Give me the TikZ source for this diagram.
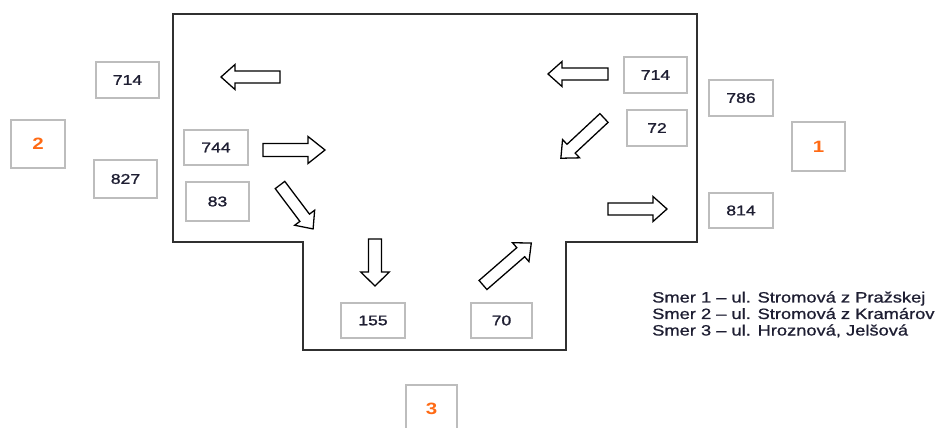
\documentclass[tikz,border=0pt]{standalone}
\usepackage{fontspec}
\setmainfont{Liberation Sans}
\newfontfamily\heavyfont[FakeBold=1.2]{Liberation Sans}
\newfontfamily\legfont[FakeBold=0.8]{Liberation Sans}
\definecolor{boxgray}{HTML}{BDBDBD}
\definecolor{numorange}{HTML}{FF6A14}
\definecolor{numtext}{HTML}{1E1E32}
\definecolor{wallcol}{HTML}{303030}
\tikzset{
  numbox/.style={draw=boxgray, line width=1.3pt, inner sep=0pt, text=numtext,
    font=\heavyfont\fontsize{12}{13}\selectfont},
  dirbox/.style={draw=boxgray, line width=1.3pt, inner sep=0pt, text=numorange,
    font=\fontsize{14}{16}\selectfont\bfseries},
  blockarr/.style={draw=black, fill=white, line width=1.1pt, line join=miter},
  wall/.style={draw=wallcol, line width=1.6pt, line join=miter},
  legend/.style={inner sep=0pt, anchor=base west, text=numtext,
    font=\legfont\fontsize{12.8}{14}\selectfont}
}
% box from (x1,y1) to (x2,y2) in pixel units
\newcommand\pxbox[7]{\node[#1, minimum width={(#5-#3)*0.03cm}, minimum height={(#6-#4)*0.03cm}]
  (#2) at ({(#3+#5)/2},{(#4+#6)/2}) {\scalebox{1.25}[1]{#7}};}
% block arrow: tail (x,y), canvas angle, length, shaft half, head half, head length
\newcommand\blockarrow[8]{\draw[blockarr, shift={(#2,#3)}, rotate=#4]
  (0,#6) -- ({#5-#8},#6) -- ({#5-#8},#7) -- (#5,0) -- ({#5-#8},-#7) -- ({#5-#8},-#6) -- (0,-#6) -- cycle;
  \coordinate (#1) at (#2,#3);}
\begin{document}
\begin{tikzpicture}[x=0.03cm, y=-0.03cm]
\useasboundingbox (0,0) rectangle (943,428);
\clip (0,0) rectangle (943,428);
% intersection outline
\draw[wall] (173,14) -- (697,14) -- (697,242) -- (566,242) -- (566,350)
  -- (303,350) -- (303,242) -- (173,242) -- cycle;
% count boxes
\pxbox{numbox}{nA}{96}{62}{159}{98}{714}
\pxbox{numbox}{nB}{94}{160}{157}{198}{827}
\pxbox{numbox}{nC}{184}{130}{248}{165}{744}
\pxbox{numbox}{nD}{186}{182}{249}{221}{83}
\pxbox{numbox}{nE}{624}{57}{687}{93}{714}
\pxbox{numbox}{nF}{627}{110}{687}{146}{72}
\pxbox{numbox}{nG}{709}{80}{773}{116}{786}
\pxbox{numbox}{nH}{709}{193}{773}{228}{814}
\pxbox{numbox}{nI}{341}{303}{405}{338}{155}
\pxbox{numbox}{nJ}{471}{303}{532}{338}{70}
% direction boxes
\pxbox{dirbox}{d2}{11}{120}{65}{168}{2}
\pxbox{dirbox}{d1}{792}{122}{845}{171}{1}
\pxbox{dirbox}{d3}{406}{385}{457}{433}{3}
% block arrows
\blockarrow{aA}{280}{77}{180}{59}{6}{12.5}{14}
\blockarrow{aE}{608}{74}{180}{60}{6}{12.5}{14}
\blockarrow{aC}{263}{150}{0}{62}{6.5}{13.5}{17}
\blockarrow{aH}{608}{209}{0}{59}{6}{12.5}{14}
\blockarrow{aD}{280}{185}{-53}{55}{6}{12.5}{14}
\blockarrow{aF}{604}{118}{-137}{59}{6}{12.5}{14}
\blockarrow{aI}{375}{239}{-90}{47}{6.5}{14.3}{14}
\blockarrow{aJ}{483}{285}{41}{64}{6}{12.5}{14}
% legend
\node[legend] (leg1) at (652,302.5) {\scalebox{1.22}[1]{Smer 1 – ul. Stromová z Pražskej}};
\node[legend] (leg2) at (652,319) {\scalebox{1.22}[1]{Smer 2 – ul. Stromová z Kramárov}};
\node[legend] (leg3) at (652,335.5) {\scalebox{1.22}[1]{Smer 3 – ul. Hroznová, Jelšová}};
\end{tikzpicture}
\end{document}
